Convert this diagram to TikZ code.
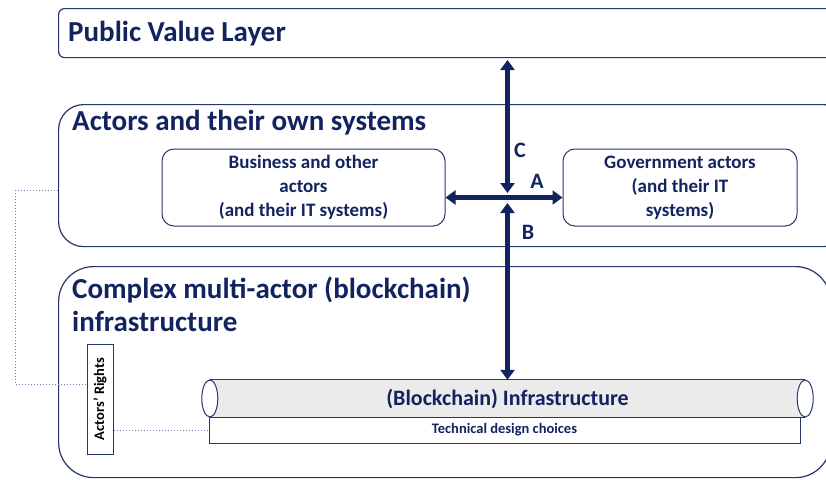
\documentclass[tikz,border=0pt]{standalone}
\usepackage{fontspec}
\setmainfont{Carlito}
\usetikzlibrary{arrows.meta}
\definecolor{navy}{HTML}{12235F}
\definecolor{frame}{HTML}{26366F}
\definecolor{pipegray}{HTML}{EBEBEB}
\definecolor{linkblue}{HTML}{6F80B3}
\tikzset{
  layer/.style={draw=frame, line width=1.2pt, anchor=north west},
  title/.style={anchor=base west, text=navy, inner sep=0pt, font=\fontsize{29}{33}\selectfont\bfseries},
  actor/.style={draw=frame, line width=1pt, rounded corners=12pt, minimum height=77pt, text=navy, align=center, font=\fontsize{19}{24}\selectfont\bfseries},
  flow/.style={navy, line width=4.5pt, {Triangle[width=14pt,length=10pt]}-{Triangle[width=14pt,length=10pt]}},
  letter/.style={text=navy, font=\fontsize{22}{26}\selectfont\bfseries},
  link/.style={linkblue, dotted, line width=1pt}
}
\begin{document}
\begin{tikzpicture}[x=1pt, y=-1pt]
    \clip (0,0) rectangle (826,479);
    % layers
    \node[layer, rounded corners=6pt, minimum width=780pt, minimum height=49pt] (pv) at (58,8) {};
    \node[title] (pvtitle) at (68,41) {Public Value Layer};
    \node[layer, rounded corners=25pt, minimum width=790pt, minimum height=142pt] (act) at (58,104) {};
    \node[title] (acttitle) at (72,130) {Actors and their own systems};
    \node[layer, rounded corners=35pt, minimum width=772pt, minimum height=211pt] (cplx) at (58,266) {};
    \node[title] (cplxtitle) at (72,298) {Complex multi-actor (blockchain)};
    \node[title] (cplxtitle2) at (72,331) {infrastructure};
    % actors
    \node[actor, minimum width=283pt] (biz) at (303.5,187.5) {Business and other\\actors\\(and their IT systems)};
    \node[actor, minimum width=234pt] (gov) at (680,187.5) {Government actors\\(and their IT\\systems)};
    % infrastructure
    \node[draw=frame, line width=1pt, minimum width=26pt, minimum height=110pt, inner sep=0pt, text=black,
          font=\fontsize{14.5}{17}\selectfont\bfseries] (rights) at (100,399) {\rotatebox{90}{Actors’ Rights}};
    \node[fill=pipegray, minimum width=595pt, minimum height=37pt, inner sep=0pt, text=navy,
          font=\fontsize{22}{26}\selectfont\bfseries] (bc) at (507.5,398.5) {(Blockchain) Infrastructure};
    \draw[frame, line width=1pt] (bc.north west) -- (bc.north east) (bc.south west) -- (bc.south east);
    \draw[frame, line width=1pt, fill=white] (bc.west) ellipse (8 and 18.5);
    \draw[frame, line width=1pt, fill=white] (bc.east) ellipse (8 and 18.5);
    \node[draw=frame, line width=1pt, minimum width=591pt, minimum height=26pt, inner sep=0pt, text=navy,
          font=\fontsize{14.5}{17}\selectfont\bfseries] (tech) at (504.5,430) {Technical design choices};
    % flows
    \coordinate (ctop) at (507.5,60);
    \coordinate (cbot) at (507.5,193);
    \coordinate (btop) at (507.5,203);
    \draw[flow] (ctop) -- (cbot);
    \draw[flow] ([yshift=-10pt]biz.east) -- ([yshift=-10pt]gov.west);
    \draw[flow] (btop) -- (bc.north);
    \node[letter] (c) at (520,150) {C};
    \node[letter] (a) at (537,181) {A};
    \node[letter] (b) at (528,232) {B};
    % links
    \draw[link] ([yshift=-15pt]act.west) -- ++(-43,0) |- ([yshift=15pt]rights.west);
    \draw[link] (tech.west -| rights.east) -- (tech.west);
\end{tikzpicture}
\end{document}
